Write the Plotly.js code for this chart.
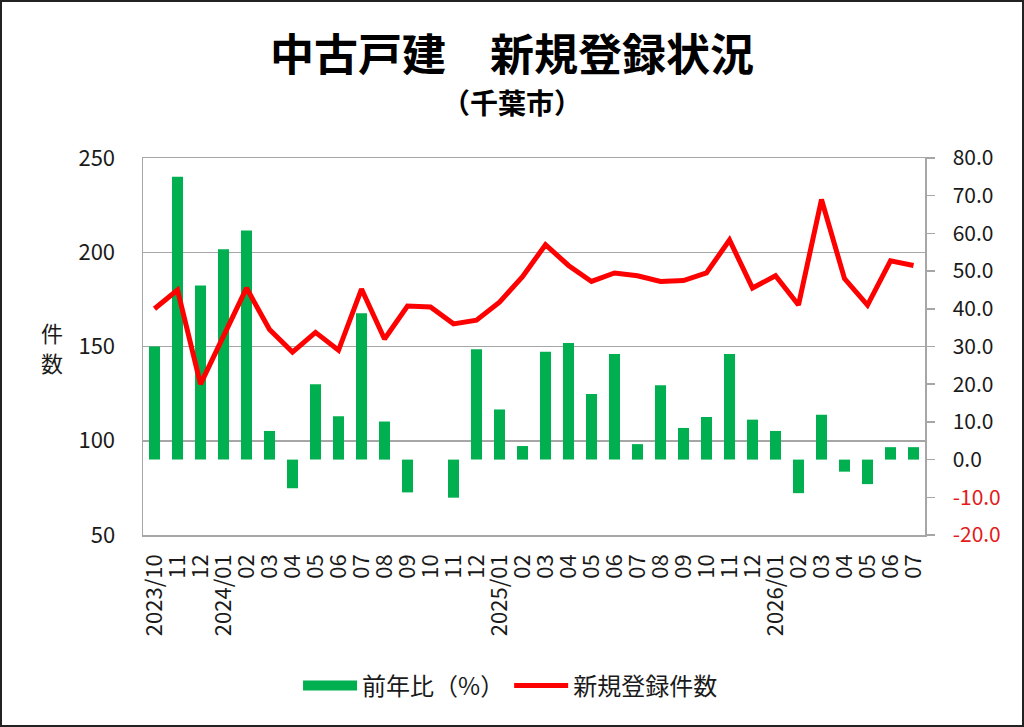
<!DOCTYPE html>
<html>
<head>
<meta charset="utf-8">
<script src="https://cdn.plot.ly/plotly-3.0.1.min.js"></script>
<style>
  html, body { margin: 0; padding: 0; background: #fff; }
  /* black frame round the whole picture */
  #chart { width: 1024px; height: 727px; box-sizing: border-box; border: 2px solid #222; }
</style>
</head>
<body>
<div id="chart"></div>
<script>
// months, full keys (tick labels below repeat "11", "12" so keys must be unique)
var months = [
  '2023/10', '2023/11', '2023/12',
  '2024/01', '2024/02', '2024/03', '2024/04', '2024/05', '2024/06',
  '2024/07', '2024/08', '2024/09', '2024/10', '2024/11', '2024/12',
  '2025/01', '2025/02', '2025/03', '2025/04', '2025/05', '2025/06',
  '2025/07', '2025/08', '2025/09', '2025/10', '2025/11', '2025/12',
  '2026/01', '2026/02', '2026/03', '2026/04', '2026/05', '2026/06', '2026/07'
];
// what is written under each bar
var tickLabels = [
  '2023/10', '11', '12',
  '2024/01', '02', '03', '04', '05', '06', '07', '08', '09', '10', '11', '12',
  '2025/01', '02', '03', '04', '05', '06', '07', '08', '09', '10', '11', '12',
  '2026/01', '02', '03', '04', '05', '06', '07'
];
// 前年比 (%) - bars, right axis
var yoyPct = [
  30.0, 75.0, 46.2,
  55.8, 60.8, 7.6, -7.6, 20.0, 11.5, 38.8, 10.1, -8.7, 0.0, -10.1, 29.3,
  13.3, 3.6, 28.6, 30.9, 17.4, 28.0, 4.1, 19.7, 8.4, 11.3, 28.0, 10.6,
  7.6, -8.9, 11.9, -3.2, -6.5, 3.3, 3.3
];
// 新規登録件数 - line, left axis
var newListings = [
  170, 180, 130,
  156, 181, 159, 147, 157.5, 148, 180.5, 154, 171.5, 171, 162, 164,
  173.5, 187, 204, 193, 184.5, 189, 187.5, 184.5, 185, 189, 206.5, 181,
  187.5, 172, 228, 186, 172, 195.5, 193
];
// right axis ticks, negatives shown in red
var rightTickVals = [-20, -10, 0, 10, 20, 30, 40, 50, 60, 70, 80];

var rightTickText = rightTickVals.map(function (v) {
  var s = v.toFixed(1);
  return v < 0 ? '<span style="color:#e31b1b">' + s + '</span>' : s;
});

var jp = '"Noto Sans CJK JP", "Noto Sans", sans-serif';
var gridGray = '#a6a6a6';
var green = '#00b050';

// bars sit on the main y axis (drawn on the right) so the line overlay comes on top
var bars = {
  x: months,
  y: yoyPct,
  name: '前年比（%）',
  type: 'bar',
  yaxis: 'y',
  marker: { color: green },
  showlegend: false,
  hoverinfo: 'x+y'
};

// legend-only entry so the swatch is a wide green block like the original
var barsKey = {
  x: [null],
  y: [null],
  name: '前年比（%）',
  type: 'scatter',
  mode: 'lines',
  yaxis: 'y',
  line: { color: green, width: 15 },
  hoverinfo: 'skip'
};

var line = {
  x: months,
  y: newListings,
  name: '新規登録件数',
  type: 'scatter',
  mode: 'lines',
  yaxis: 'y2',
  line: { color: '#ff0000', width: 5 },
  hoverinfo: 'x+y'
};

var layout = {
  width: 1020,
  height: 723,
  margin: { l: 141, r: 97, t: 156, b: 190 },
  paper_bgcolor: '#ffffff',
  plot_bgcolor: '#ffffff',
  font: { family: jp, color: '#1a1a1a' },
  bargap: 0.52,
  showlegend: true,
  title: {
    text: '<b>中古戸建　新規登録状況</b>',
    font: { family: jp, size: 44, color: '#000' },
    x: 0.5, xanchor: 'center',
    y: 0.926, yanchor: 'middle', yref: 'container'
  },
  xaxis: {
    type: 'category',
    tickmode: 'array',
    tickvals: months,
    ticktext: tickLabels,
    tickangle: -90,
    tickfont: { family: jp, size: 22, color: '#1a1a1a' },
    ticks: 'outside', ticklen: 9, tickcolor: 'rgba(0,0,0,0)',
    showgrid: false,
    showline: true, linecolor: gridGray, linewidth: 1.5, mirror: true,
    zeroline: false
  },
  yaxis: {
    side: 'right',
    range: [-20, 80],
    tickmode: 'array',
    tickvals: rightTickVals,
    ticktext: rightTickText,
    tickfont: { family: jp, size: 21, color: '#1a1a1a' },
    ticks: 'outside', ticklen: 8, tickcolor: gridGray, tickwidth: 1.5,
    ticklabelstandoff: 14,
    showgrid: false,
    showline: true, linecolor: gridGray, linewidth: 1.5,
    zeroline: false
  },
  yaxis2: {
    overlaying: 'y',
    side: 'left',
    range: [50, 250],
    dtick: 50,
    tickfont: { family: jp, size: 22, color: '#1a1a1a' },
    ticks: 'outside', ticklen: 22, tickcolor: 'rgba(0,0,0,0)',
    showgrid: true, gridcolor: gridGray, gridwidth: 1.5,
    showline: true, linecolor: gridGray, linewidth: 1.5,
    zeroline: false
  },
  legend: {
    orientation: 'h',
    x: 0.47, xanchor: 'center',
    y: -0.40, yanchor: 'middle',
    font: { family: jp, size: 24, color: '#1a1a1a' },
    itemwidth: 54,
    traceorder: 'normal'
  },
  annotations: [
    {
      text: '<b>（千葉市）</b>',
      xref: 'paper', yref: 'paper',
      x: 0.472, y: 1.148,
      xanchor: 'center', yanchor: 'middle',
      showarrow: false,
      font: { family: jp, size: 28, color: '#000' }
    },
    {
      // vertical axis label, characters stacked
      text: '件',
      xref: 'paper', yref: 'paper',
      x: -0.1164, y: 0.5385,
      xanchor: 'center', yanchor: 'middle',
      showarrow: false,
      font: { family: jp, size: 22, color: '#1a1a1a' }
    },
    {
      text: '数',
      xref: 'paper', yref: 'paper',
      x: -0.1164, y: 0.459,
      xanchor: 'center', yanchor: 'middle',
      showarrow: false,
      font: { family: jp, size: 22, color: '#1a1a1a' }
    }
  ]
};

Plotly.newPlot('chart', [bars, barsKey, line], layout, { displayModeBar: false, staticPlot: true });
</script>
</body>
</html>
